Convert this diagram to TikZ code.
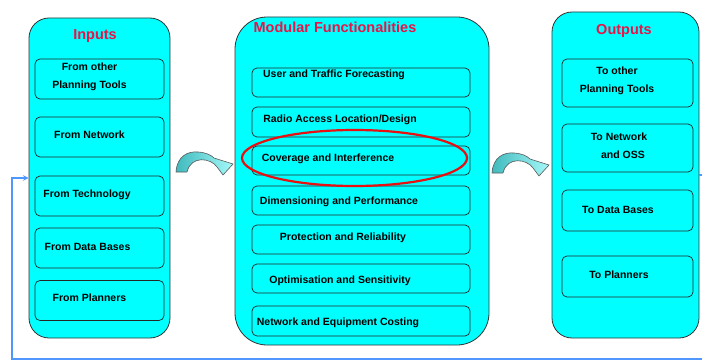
\documentclass[tikz,border=0pt]{standalone}
\usepackage{fontspec}
\setmainfont{Liberation Sans}
\usetikzlibrary{arrows}

\definecolor{boxcyan}{RGB}{0,255,255}
\definecolor{titlered}{RGB}{232,20,72}
\definecolor{ringred}{RGB}{232,16,16}
\definecolor{loopblue}{RGB}{80,150,255}
\definecolor{arrowdark}{RGB}{64,186,190}
\definecolor{arrowlight}{RGB}{165,248,248}

\tikzset{curlyarrow/.pic={
  \path[draw=black!65, line width=0.6pt, left color=arrowdark, right color=arrowlight]
    (0,0) .. controls (1,-16) and (12,-21) .. (22,-20)
    .. controls (30,-19.5) and (35,-17) .. (38,-14) -- (57,-8) -- (47,3) -- (41,-5)
    .. controls (35,-14) and (15,-17) .. (11,0) -- cycle;
}}

\begin{document}
\begin{tikzpicture}[x=1pt, y=-1pt, >=stealth]
			\tikzstyle{column} = [draw=black!80, line width=0.8pt, fill=boxcyan, inner sep=0pt]
			\tikzstyle{item} = [draw=black!85, line width=0.7pt, rounded corners=5pt, inner sep=0pt]
			\tikzstyle{itemtext} = [font=\bfseries\fontsize{10.5}{18}\selectfont, align=center, inner sep=0pt]
			\tikzstyle{heading} = [font=\bfseries\fontsize{14.5}{17}\selectfont, text=titlered, anchor=base, inner sep=0pt]

			\useasboundingbox (0,0) rectangle (702,361);

			% three columns
			\node[column, rounded corners=20pt, minimum width=141pt, minimum height=320pt] (inputs) at (99.5,178) {};
			\node[column, rounded corners=32pt, minimum width=254pt, minimum height=328pt] (modules) at (362,181) {};
			\node[column, rounded corners=20pt, minimum width=147pt, minimum height=326pt] (outputs) at (625.5,175) {};

			% feedback loop
			\coordinate (fb) at (12,359);
			\draw[->, loopblue, line width=1.5pt] (outputs.east) -- ++(6,0) |- (fb) |- (inputs.west);

			\begin{scope}
			\path
			node[heading] (intitle) at (95,40) {Inputs}
			node[item, minimum width=129pt, minimum height=40pt] (in1) at (99.5,79) {}
			node[item, minimum width=129pt, minimum height=40pt] (in2) at (99.5,137) {}
			node[item, minimum width=129pt, minimum height=40pt] (in3) at (99.5,196) {}
			node[item, minimum width=129pt, minimum height=40pt] (in4) at (99.5,248) {}
			node[item, minimum width=129pt, minimum height=40pt] (in5) at (99.5,300.5) {}
			node[itemtext] (in1t) at (89.5,77) {From other\\Planning Tools}
			node[itemtext] (in2t) at (89.5,135) {From Network}
			node[itemtext] (in3t) at (87,195) {From Technology}
			node[itemtext] (in4t) at (87.5,247) {From Data Bases}
			node[itemtext] (in5t) at (89.5,298) {From Planners}
			;
			\end{scope}

			\begin{scope}
			\path
			node[heading] (modtitle) at (335,33) {Modular Functionalities}
			node[item, minimum width=218pt, minimum height=29pt] (m1) at (361,82.5) {}
			node[item, minimum width=218pt, minimum height=30pt] (m2) at (361,122) {}
			node[item, minimum width=218pt, minimum height=29pt] (m3) at (361,160.5) {}
			node[item, minimum width=218pt, minimum height=29pt] (m4) at (361,200.5) {}
			node[item, minimum width=218pt, minimum height=29pt] (m5) at (361,239.5) {}
			node[item, minimum width=218pt, minimum height=29pt] (m6) at (361,278.5) {}
			node[item, minimum width=218pt, minimum height=30pt] (m7) at (361,321) {}
			node[itemtext] (m1t) at (334,75) {User and Traffic Forecasting}
			node[itemtext] (m2t) at (340,120) {Radio Access Location/Design}
			node[itemtext] (m3t) at (328,159) {Coverage and Interference}
			node[itemtext] (m4t) at (339,202) {Dimensioning and Performance}
			node[itemtext] (m5t) at (343,238) {Protection and Reliability}
			node[itemtext] (m6t) at (340,281) {Optimisation and Sensitivity}
			node[itemtext] (m7t) at (338,323) {Network and Equipment Costing}
			;
			\draw[ringred, line width=2.2pt] (354.5,158) ellipse [x radius=112.5pt, y radius=28pt];
			\end{scope}

			\begin{scope}
			\path
			node[heading] (outtitle) at (624,35) {Outputs}
			node[item, minimum width=131pt, minimum height=48pt] (o1) at (627.5,83) {}
			node[item, minimum width=131pt, minimum height=48pt] (o2) at (627.5,148) {}
			node[item, minimum width=131pt, minimum height=41pt] (o3) at (627.5,210.5) {}
			node[item, minimum width=131pt, minimum height=41pt] (o4) at (627.5,276.5) {}
			node[itemtext] (o1t) at (617,81) {To other\\Planning Tools}
			node[itemtext] (o2t) at (619,146) {To Network\\\hspace*{8pt}and OSS}
			node[itemtext] (o3t) at (618,210) {To Data Bases}
			node[itemtext] (o4t) at (619,275) {To Planners}
			;
			\end{scope}

			% flow arrows between columns
			\pic at (176,172) {curlyarrow};
			\pic at (492,173) {curlyarrow};

\end{tikzpicture}
\end{document}
